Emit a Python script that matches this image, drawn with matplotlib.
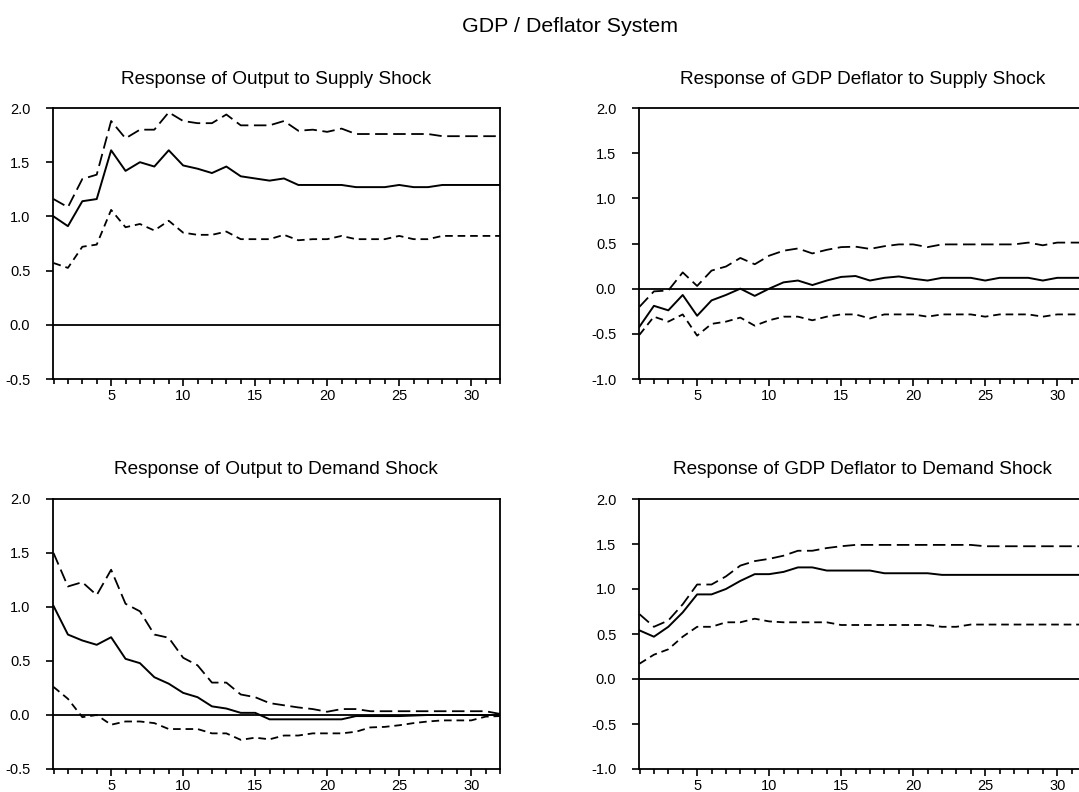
import matplotlib
matplotlib.use("Agg")
import matplotlib.pyplot as plt
from matplotlib.ticker import MultipleLocator

plt.rcParams['font.family'] = ['Liberation Sans', 'DejaVu Sans']
plt.rcParams['lines.scale_dashes'] = False

periods = list(range(1, 33))

out_sup = [1.00, 0.91, 1.14, 1.16, 1.61, 1.42, 1.50, 1.46, 1.61, 1.47, 1.44, 1.40, 1.46, 1.37, 1.35, 1.33,
           1.35, 1.29, 1.29, 1.29, 1.29, 1.27, 1.27, 1.27, 1.29, 1.27, 1.27, 1.29, 1.29, 1.29, 1.29, 1.29]
out_sup_hi = [1.16, 1.085, 1.345, 1.385, 1.88, 1.72, 1.80, 1.80, 1.96, 1.88, 1.86, 1.86, 1.94, 1.84, 1.84, 1.84,
              1.88, 1.79, 1.80, 1.78, 1.81, 1.76, 1.76, 1.76, 1.76, 1.76, 1.76, 1.74, 1.74, 1.74, 1.74, 1.74]
out_sup_lo = [0.57, 0.525, 0.72, 0.74, 1.06, 0.90, 0.93, 0.87, 0.96, 0.85, 0.83, 0.83, 0.86, 0.79, 0.79, 0.79,
              0.83, 0.78, 0.79, 0.79, 0.82, 0.79, 0.79, 0.79, 0.82, 0.79, 0.79, 0.82, 0.82, 0.82, 0.82, 0.82]

def_sup = [-0.42, -0.19, -0.24, -0.07, -0.30, -0.13, -0.07, 0.0, -0.08, 0.0, 0.07, 0.09, 0.04, 0.09, 0.13, 0.14,
           0.09, 0.12, 0.135, 0.11, 0.09, 0.12, 0.12, 0.12, 0.09, 0.12, 0.12, 0.12, 0.09, 0.12, 0.12, 0.12]
def_sup_hi = [-0.20, -0.03, -0.02, 0.18, 0.03, 0.20, 0.245, 0.34, 0.27, 0.365, 0.42, 0.445, 0.39, 0.43, 0.46, 0.465,
              0.44, 0.47, 0.49, 0.49, 0.46, 0.49, 0.49, 0.49, 0.49, 0.49, 0.49, 0.51, 0.48, 0.51, 0.51, 0.51]
def_sup_lo = [-0.51, -0.31, -0.365, -0.285, -0.52, -0.39, -0.365, -0.32, -0.41, -0.35, -0.31, -0.31, -0.35, -0.31,
              -0.285, -0.285, -0.33, -0.285, -0.285, -0.285, -0.31, -0.285, -0.285, -0.285, -0.31, -0.285, -0.285,
              -0.285, -0.31, -0.285, -0.285, -0.285]

out_dem = [1.01, 0.745, 0.69, 0.65, 0.72, 0.52, 0.48, 0.35, 0.29, 0.205, 0.165, 0.08, 0.06, 0.02, 0.02, -0.04,
           -0.04, -0.04, -0.04, -0.04, -0.04, -0.01, -0.01, -0.01, -0.01, -0.005, 0.0, 0.0, 0.0, 0.0, 0.0, 0.0]
out_dem_hi = [1.50, 1.19, 1.23, 1.11, 1.345, 1.03, 0.96, 0.745, 0.715, 0.53, 0.46, 0.30, 0.30, 0.19, 0.165, 0.11,
              0.09, 0.07, 0.055, 0.03, 0.055, 0.055, 0.035, 0.035, 0.035, 0.035, 0.035, 0.035, 0.035, 0.035, 0.035, 0.01]
out_dem_lo = [0.26, 0.15, -0.02, 0.0, -0.09, -0.06, -0.06, -0.075, -0.13, -0.13, -0.13, -0.17, -0.17, -0.23, -0.21,
              -0.225, -0.19, -0.19, -0.17, -0.17, -0.17, -0.155, -0.115, -0.11, -0.095, -0.075, -0.06, -0.05, -0.05,
              -0.05, -0.015, -0.01]

def_dem = [0.54, 0.47, 0.58, 0.74, 0.94, 0.94, 1.0, 1.09, 1.165, 1.165, 1.19, 1.24, 1.24, 1.205, 1.205, 1.205,
           1.205, 1.175, 1.175, 1.175, 1.175, 1.157, 1.157, 1.157, 1.157, 1.157, 1.157, 1.157, 1.157, 1.157, 1.157, 1.157]
def_dem_hi = [0.72, 0.58, 0.65, 0.83, 1.05, 1.05, 1.14, 1.26, 1.31, 1.335, 1.37, 1.425, 1.425, 1.455, 1.475, 1.49,
              1.49, 1.49, 1.49, 1.49, 1.49, 1.49, 1.49, 1.49, 1.475, 1.475, 1.475, 1.475, 1.475, 1.475, 1.475, 1.475]
def_dem_lo = [0.17, 0.27, 0.33, 0.47, 0.58, 0.58, 0.63, 0.63, 0.67, 0.64, 0.63, 0.63, 0.63, 0.63, 0.60, 0.60,
              0.60, 0.60, 0.60, 0.60, 0.60, 0.58, 0.58, 0.605, 0.605, 0.605, 0.605, 0.605, 0.605, 0.605, 0.605, 0.605]

titles = ["Response of Output to Supply Shock", "Response of GDP Deflator to Supply Shock",
          "Response of Output to Demand Shock", "Response of GDP Deflator to Demand Shock"]

W, H = 1079, 792
fig = plt.figure(figsize=(W / 100, H / 100), dpi=100)


def panel(left, top, bottom, mid, hi, lo, ylim, yticks, title):
    # axes placed in pixel units, right panels run past the image edge like the original
    ax = fig.add_axes([left / W, 1 - bottom / H, 447.5 / W, (bottom - top) / H])
    ax.plot(periods, hi, color='black', lw=1.3, dashes=(9, 4))
    ax.plot(periods, lo, color='black', lw=1.3, dashes=(5.5, 3.5))
    ax.plot(periods, mid, color='black', lw=1.4)
    ax.axhline(0, color='black', lw=1.3)
    ax.set_xlim(0.93, 32)
    ax.set_ylim(*ylim)
    ax.set_yticks(yticks)
    ax.set_yticklabels([f"{t:.1f}" for t in yticks])
    ax.set_xticks([5, 10, 15, 20, 25, 30])
    ax.xaxis.set_minor_locator(MultipleLocator(1))
    ax.tick_params(axis='both', which='major', direction='out', length=5, width=1.2,
                   labelsize=10.5, pad=2, colors='black')
    ax.tick_params(axis='y', pad=11)
    ax.tick_params(axis='x', which='minor', direction='out', length=3.5, width=1.2)
    for s in ax.spines.values():
        s.set_linewidth(1.3)
    fig.text((left + 447.5 / 2) / W, 1 - (top - 29) / H, title, ha='center', va='center', fontsize=13.7)
    return ax


panel(52.5, 108, 379, out_sup, out_sup_hi, out_sup_lo, (-0.5, 2.0), [-0.5, 0.0, 0.5, 1.0, 1.5, 2.0], titles[0])
panel(638.5, 108, 379, def_sup, def_sup_hi, def_sup_lo, (-1.0, 2.0), [-1.0, -0.5, 0.0, 0.5, 1.0, 1.5, 2.0], titles[1])
panel(52.5, 499, 769, out_dem, out_dem_hi, out_dem_lo, (-0.5, 2.0), [-0.5, 0.0, 0.5, 1.0, 1.5, 2.0], titles[2])
panel(638.5, 499, 769, def_dem, def_dem_hi, def_dem_lo, (-1.0, 2.0), [-1.0, -0.5, 0.0, 0.5, 1.0, 1.5, 2.0], titles[3])

fig.text(570 / W, 1 - 26 / H, "GDP / Deflator System", ha='center', va='center', fontsize=15.4)

fig.savefig("out.png", dpi=100)
